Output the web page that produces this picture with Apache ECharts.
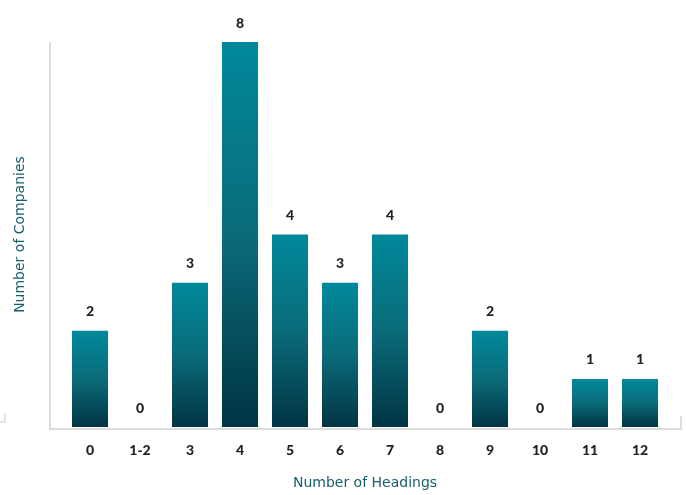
<!DOCTYPE html>
<html><head><meta charset="utf-8">
<script src="https://cdn.jsdelivr.net/npm/echarts@6/dist/echarts.min.js"></script>
<style>html,body{margin:0;padding:0;background:#fff}#c{width:686px;height:495px}</style>
</head><body><div id="c"></div>
<script>
const categories = ['0','1-2','3','4','5','6','7','8','9','10','11','12'];
const companies = [2,0,3,8,4,3,4,0,2,0,1,1];
const xName = 'Number of Headings';
const yName = 'Number of Companies';

const chart = echarts.init(document.getElementById('c'));
const grad = new echarts.graphic.LinearGradient(0,0,0,1,[
  {offset:0,color:'#00899b'},
  {offset:0.5,color:'#0b6b79'},
  {offset:1,color:'#003444'}
]);
chart.setOption({
  animation:false,
  grid:{left:65,right:21,top:42,bottom:67},
  xAxis:{type:'category',data:categories,
    axisLine:{show:false},axisTick:{show:false},
    axisLabel:{color:'#222',fontWeight:900,fontSize:14,fontFamily:'Lato',margin:16},
    name:xName,nameLocation:'middle',nameGap:49,
    nameTextStyle:{color:'#17606e',fontSize:14,fontFamily:'DejaVu Sans'}},
  yAxis:{type:'value',min:0,max:8,splitLine:{show:false},axisLabel:{show:false},
    axisLine:{show:false},axisTick:{show:false},
    name:yName,nameLocation:'middle',nameGap:38,
    nameTextStyle:{color:'#17606e',fontSize:14,fontFamily:'DejaVu Sans'}},
  series:[{type:'bar',data:companies,barWidth:36,
    itemStyle:{color:grad},
    label:{show:true,position:'top',distance:12,color:'#222',fontWeight:900,fontSize:14,fontFamily:'Lato'}}],
  graphic:[
    {type:'line',shape:{x1:50,y1:42,x2:50,y2:428},style:{stroke:'#dcdcdc',lineWidth:2}},
    {type:'line',shape:{x1:49,y1:429,x2:681,y2:429},style:{stroke:'#dcdcdc',lineWidth:2}},
    {type:'line',shape:{x1:681,y1:416,x2:681,y2:430},style:{stroke:'#dcdcdc',lineWidth:2}},
    {type:'polyline',shape:{points:[[0,422],[5,422],[5,413]]},style:{stroke:'#dcdcdc',lineWidth:1.5,fill:null}}
  ]
});
</script></body></html>
